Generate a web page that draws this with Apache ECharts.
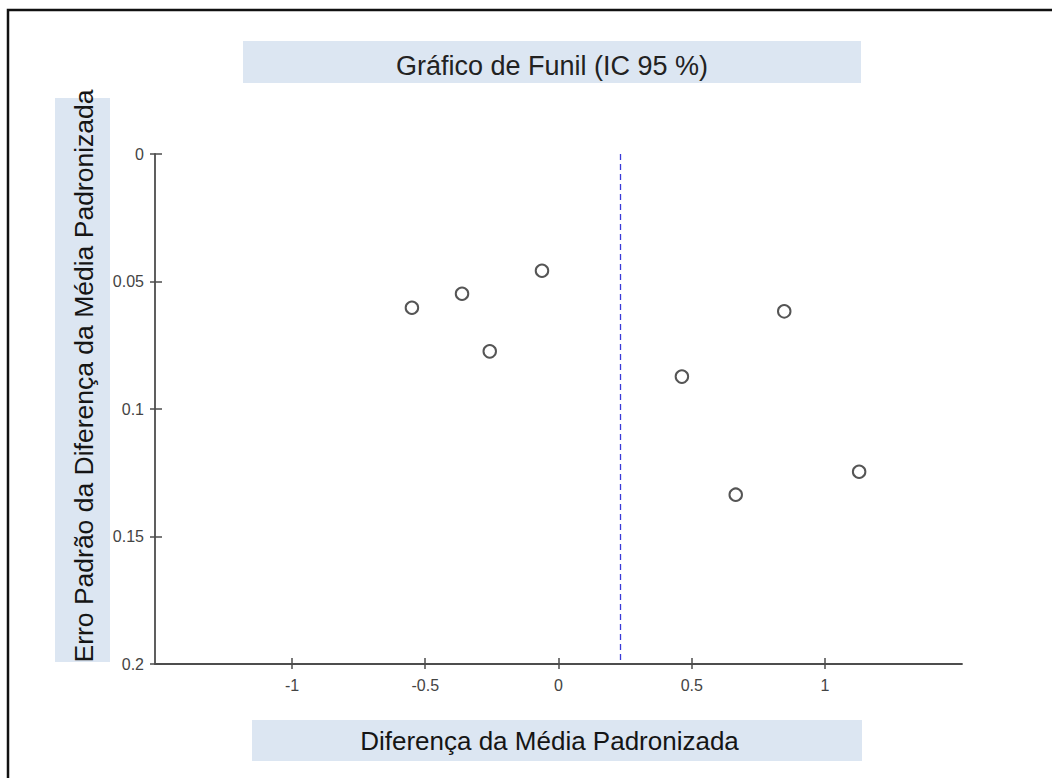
<!DOCTYPE html>
<html>
<head>
<meta charset="utf-8">
<title>Gráfico de Funil (IC 95 %)</title>
<script src="https://cdn.jsdelivr.net/npm/echarts@6/dist/echarts.min.js"></script>
<style>
  html, body { margin: 0; padding: 0; background: #ffffff; }
  #chart { width: 1052px; height: 778px; }
</style>
</head>
<body>
<div id="chart"></div>
<script>
// Funnel plot: each study's standardized mean difference against its standard error
const chartTitle = 'Gráfico de Funil (IC 95 %)';
const xAxisTitle = 'Diferença da Média Padronizada';
const yAxisTitle = 'Erro Padrão da Diferença da Média Padronizada';

// Standardized mean difference per study
const smdValues = [-0.55, -0.362, -0.258, -0.062, 0.463, 0.665, 0.847, 1.128];
// Standard error per study
const seValues = [0.0603, 0.0548, 0.0774, 0.0458, 0.0873, 0.1336, 0.0617, 0.1246];
// Pooled estimate shown as the dashed vertical reference
const pooledEstimate = 0.232;

// Tick values
const xTickValues = [-1, -0.5, 0, 0.5, 1];
const yTickValues = [0, 0.05, 0.1, 0.15, 0.2];
const xRange = [-1.514, 1.514];

const points = smdValues.map((v, i) => [v, seValues[i]]);

const font = '"Liberation Sans", Arial, sans-serif';
const axisColor = '#4d4d4d';
const boxColor = '#dce6f2';

const chart = echarts.init(document.getElementById('chart'), null, { renderer: 'svg' });

const baseX = {
  type: 'value',
  min: xRange[0],
  max: xRange[1],
  position: 'bottom',
  splitLine: { show: false }
};
const baseY = {
  type: 'value',
  min: yTickValues[0],
  max: yTickValues[yTickValues.length - 1],
  interval: 0.05,
  inverse: true,
  position: 'left',
  splitLine: { show: false }
};

chart.setOption({
  backgroundColor: '#ffffff',
  animation: false,
  title: {
    text: chartTitle,
    left: 547,
    top: 47,
    textAlign: 'center',
    textStyle: { fontFamily: font, fontSize: 27, fontWeight: 'normal', color: '#222222' }
  },
  graphic: [
    // frame
    { type: 'rect', z: -10, shape: { x: 8, y: 10, width: 2000, height: 2000 },
      style: { fill: 'none', stroke: '#111111', lineWidth: 2.5 } },
    // shaded label panels
    { type: 'rect', z: -5, shape: { x: 243, y: 41, width: 618, height: 42 }, style: { fill: boxColor } },
    { type: 'rect', z: -5, shape: { x: 55, y: 98, width: 55, height: 564 }, style: { fill: boxColor } },
    { type: 'rect', z: -5, shape: { x: 252, y: 720, width: 610, height: 41 }, style: { fill: boxColor } }
  ],
  grid: { left: 155, top: 154, right: 90, bottom: 114 },
  xAxis: [
    Object.assign({}, baseX, {
      name: xAxisTitle,
      nameLocation: 'middle',
      nameGap: 64,
      nameTextStyle: { fontFamily: font, fontSize: 26, color: '#151515', padding: [0, 18, 0, 0] },
      axisLine: { show: true, onZero: false, lineStyle: { color: axisColor, width: 1.8 } },
      axisTick: { show: true, length: 5, customValues: xTickValues, lineStyle: { color: axisColor, width: 1.5 } },
      axisLabel: { show: true, margin: 13, customValues: xTickValues,
        fontFamily: font, fontSize: 16, color: '#444444' }
    }),
    Object.assign({}, baseX, {
      axisLine: { show: false, onZero: false },
      axisTick: { show: true, inside: true, length: 6, customValues: xTickValues, lineStyle: { color: axisColor, width: 1.5 } },
      axisLabel: { show: false }
    })
  ],
  yAxis: [
    Object.assign({}, baseY, {
      name: yAxisTitle,
      nameLocation: 'middle',
      nameGap: 58,
      nameRotate: 90,
      nameTextStyle: { fontFamily: font, fontSize: 26.5, color: '#151515', padding: [0, 0, 0, 66] },
      axisLine: { show: true, onZero: false, lineStyle: { color: axisColor, width: 1.8 } },
      axisTick: { show: true, length: 5, lineStyle: { color: axisColor, width: 1.5 } },
      axisLabel: { show: true, margin: 11, fontFamily: font, fontSize: 16, color: '#444444',
        formatter: v => String(v) }
    }),
    Object.assign({}, baseY, {
      axisLine: { show: false, onZero: false },
      axisTick: { show: true, inside: true, length: 7, lineStyle: { color: axisColor, width: 1.5 } },
      axisLabel: { show: false }
    })
  ],
  series: [
    {
      type: 'scatter',
      xAxisIndex: 0,
      yAxisIndex: 0,
      data: points,
      symbol: 'circle',
      symbolSize: 12.5,
      itemStyle: { color: '#ffffff', borderColor: '#555555', borderWidth: 2, opacity: 1 },
      markLine: {
        silent: true,
        symbol: ['none', 'none'],
        label: { show: false },
        lineStyle: { color: '#3a3ad8', type: [6, 4], width: 1.3 },
        data: [{ xAxis: pooledEstimate }]
      }
    }
  ]
});
</script>
</body>
</html>
